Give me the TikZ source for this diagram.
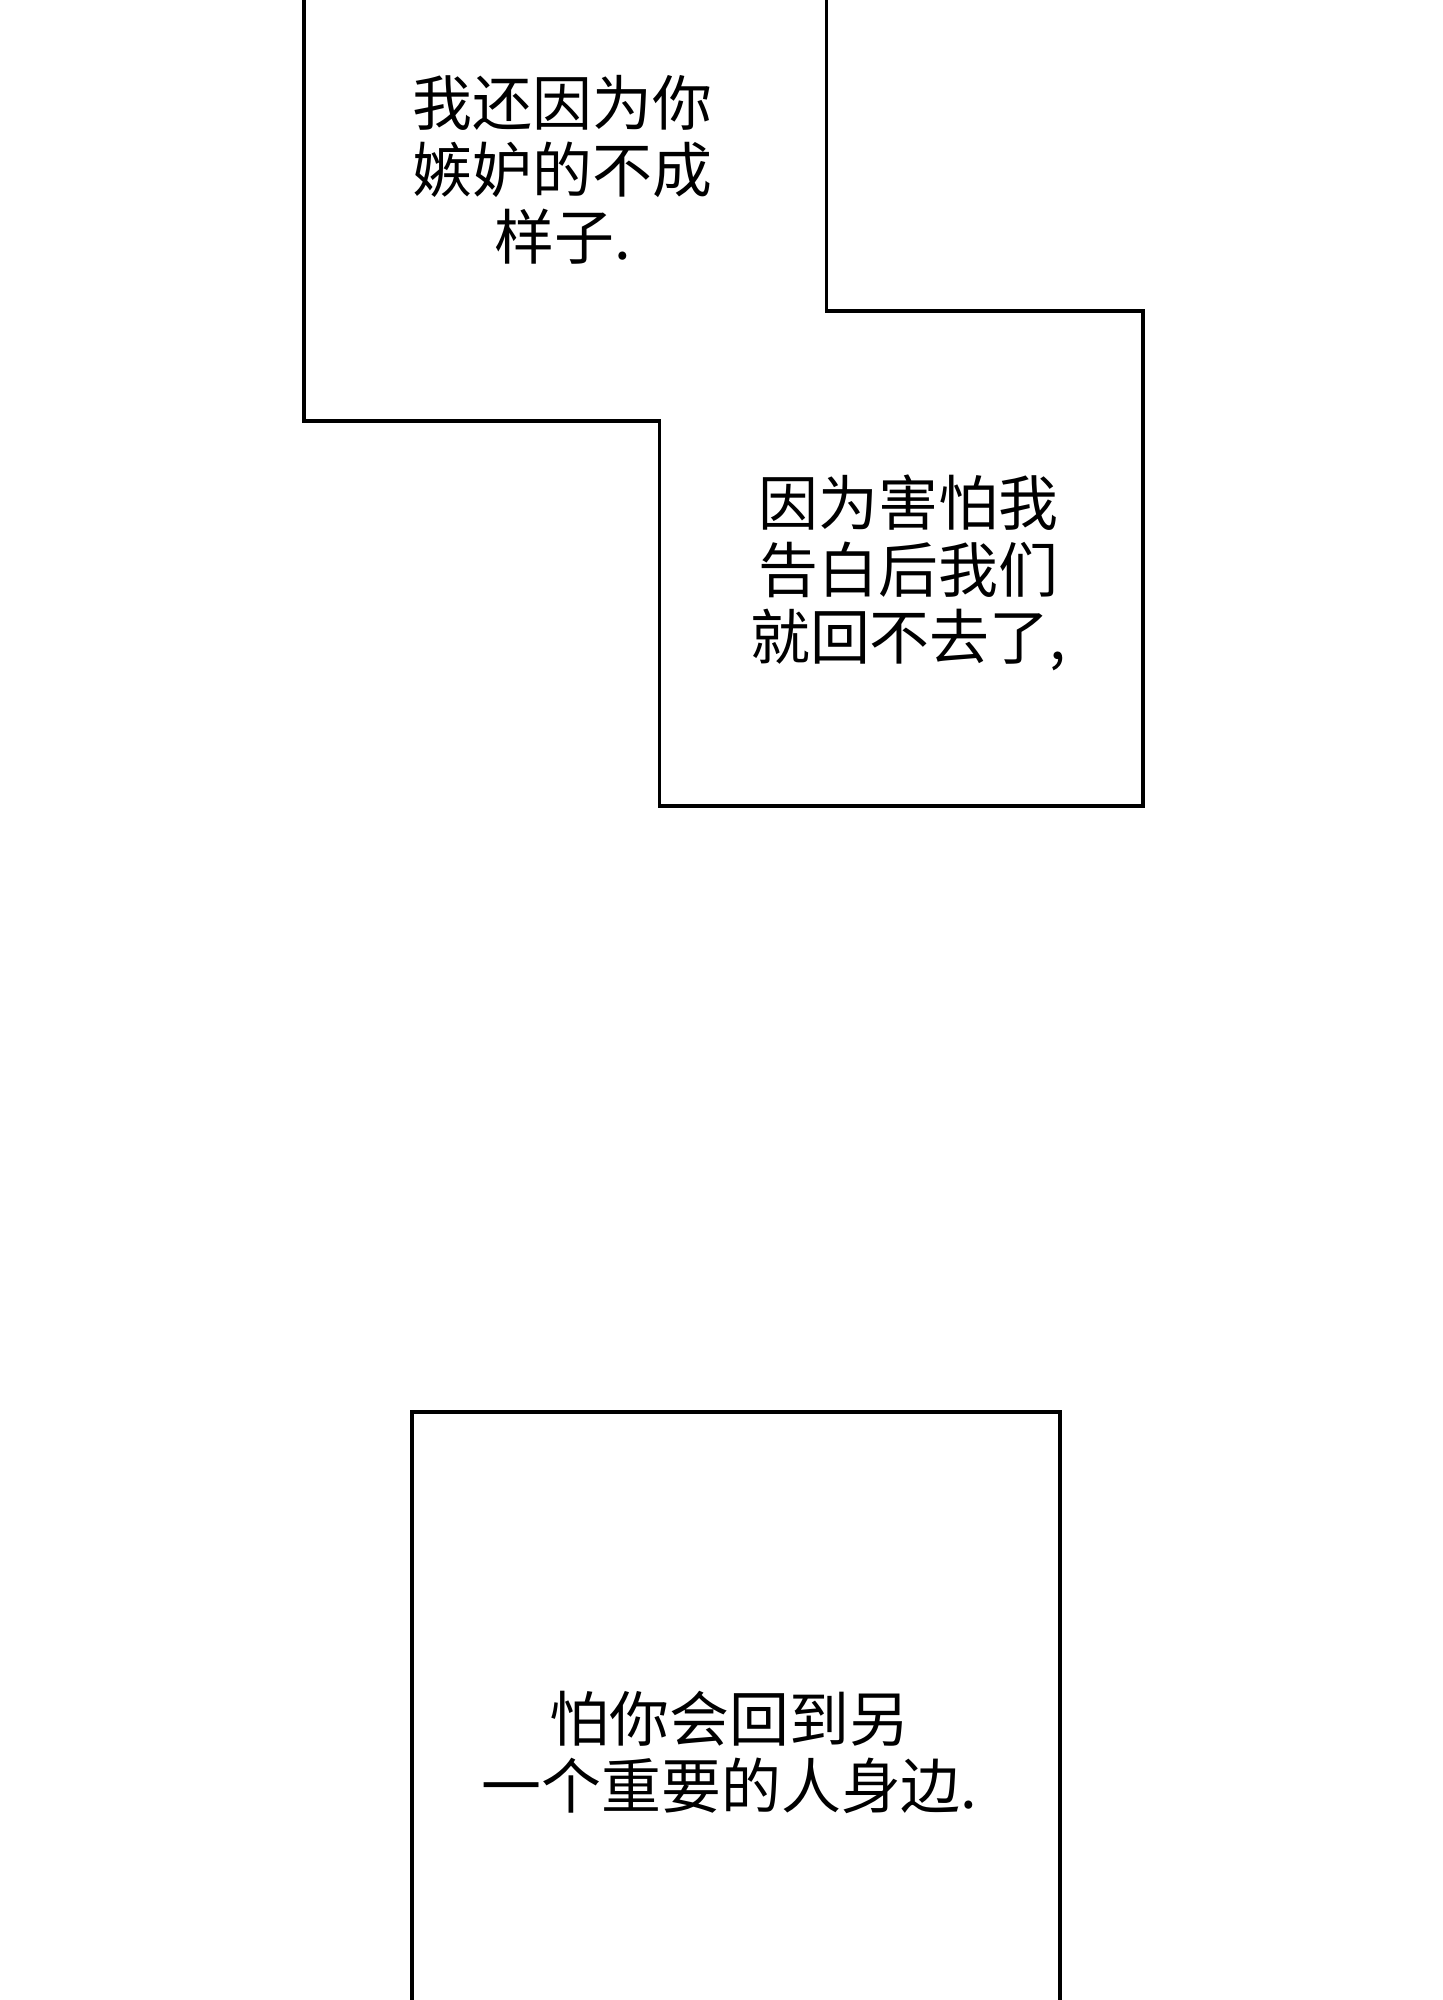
\documentclass[tikz,border=0pt]{standalone}
\usepackage{fontspec}
\newfontfamily\cjk{Noto Sans CJK SC}
\tikzset{
  panel/.style={draw=black, line width=1.1pt},
  speech/.style={font=\cjk\fontsize{17pt}{19pt}\selectfont, align=center, inner sep=0pt}
}
\begin{document}
\begin{tikzpicture}[x=0.012732cm, y=-0.012732cm]
\useasboundingbox (0,0) rectangle (1131,1568);
% upper panels
\draw[panel] (238,-5) -- (238,330) -- (517,330) -- (517,632) -- (896,632) -- (896,244) -- (648,244) -- (648,-5);
\node[speech] (jealous) at (441,133) {我还因为你\\嫉妒的不成\\样子.};
\node[speech] (afraid) at (712,449) {因为害怕我\\告白后我们\\就回不去了,};
% lower panel
\draw[panel] (323,1575) -- (323,1107) -- (831,1107) -- (831,1575);
\node[speech] (return) at (572,1374) {怕你会回到另\\一个重要的人身边.};
\end{tikzpicture}
\end{document}
